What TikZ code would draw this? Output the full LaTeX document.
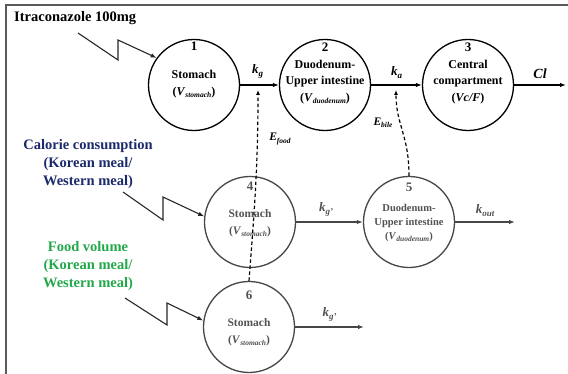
\documentclass[tikz,border=0pt]{standalone}
\usepackage{fontspec}
\setmainfont{Liberation Serif}
\usetikzlibrary{arrows.meta}
\definecolor{navyblue}{HTML}{1B2A6B}
\definecolor{foodgreen}{HTML}{22A84A}
\definecolor{framegray}{HTML}{5A5A5A}
\newcommand\lowsub[1]{\raisebox{-0.45ex}{\fontsize{7.5}{7.5}\selectfont\bfseries\itshape #1}}
\newcommand\ratesub[1]{\raisebox{-0.45ex}{\fontsize{9}{9}\selectfont\bfseries\itshape #1}}
\newcommand\bisym[1]{\textbf{\textit{#1}}}
\begin{document}
\begin{tikzpicture}[x=1pt,y=-1pt,
  comp/.style={circle,draw=black,line width=1.3pt,minimum size=91pt,inner sep=0pt},
  lcomp/.style={comp,draw=black!72},
  num/.style={font=\fontsize{13}{13}\selectfont\bfseries,inner sep=0pt},
  lnum/.style={num,text=black!68},
  ctext/.style={font=\fontsize{12}{16.5}\selectfont\bfseries,align=center,inner sep=0pt},
  lctext/.style={font=\fontsize{11.5}{16.5}\selectfont\bfseries,align=center,inner sep=0pt,text=black!68},
  flow/.style={line width=1.3pt,-{Latex[length=6pt,width=4.5pt]}},
  lflow/.style={flow,draw=black!72},
  zig/.style={line width=1.1pt,draw=black!85,-{Latex[length=6pt,width=4.5pt]}},
  effect/.style={line width=1.2pt,dash pattern=on 3.5pt off 2.5pt,-{Latex[length=5pt,width=4pt]}},
  rate/.style={font=\fontsize{13}{13}\selectfont,inner sep=0pt},
  side/.style={font=\fontsize{14.5}{18}\selectfont\bfseries,align=center,inner sep=0pt}
]
\useasboundingbox (0,0) rectangle (568,374);
% frame
\draw[framegray,line width=1.5pt] (6,374) -- (6,5) -- (568,5);

% top row compartments
\node[comp] (c1) at (194,85) {};
\node[comp] (c2) at (325,85) {};
\node[comp] (c3) at (468,85) {};
\node[num] (n1) at (194,46) {1};
\node[num] (n2) at (325,47) {2};
\node[num] (n3) at (468,47) {3};
\node[ctext] (t1) at (194,84) {Stomach\\(\bisym{V}\lowsub{stomach})};
\node[ctext] (t2) at (325,82) {Duodenum-\\Upper intestine\\(\bisym{V}\lowsub{duodenum})};
\node[ctext] (t3) at (468,82) {Central\\compartment\\(\bisym{Vc/F})};

% lower compartments
\node[lcomp] (c4) at (250,222) {};
\node[lcomp] (c5) at (409,222) {};
\node[lcomp] (c6) at (249,327) {};
\node[lnum] (n4) at (250,186) {4};
\node[lnum] (n5) at (409,187) {5};
\node[lnum] (n6) at (249,295) {6};
\node[lctext] (t4) at (250,223) {Stomach\\(\bisym{V}\lowsub{stomach})};
\node[lctext,font=\fontsize{10.5}{14}\selectfont\bfseries] (t5) at (409,223) {Duodenum-\\Upper intestine\\(\bisym{V}\lowsub{duodenum})};
\node[lctext] (t6) at (249,332) {Stomach\\(\bisym{V}\lowsub{stomach})};

% flows top
\draw[flow] (c1) -- (c2) node[pos=0.45,above=6pt,rate] (kg) {\bisym{k}\ratesub{g}};
\draw[flow] (c2) -- (c3) node[pos=0.5,above=6pt,rate] (ka) {\bisym{k}\ratesub{a}};
\coordinate (clend) at (566,85);
\draw[flow] (c3) -- (clend) node[pos=0.5,above=6pt,rate,font=\fontsize{14}{14}\selectfont] (cl) {\bisym{Cl}};

% flows bottom
\draw[lflow] (c4) -- (c5) node[pos=0.45,above=5pt,rate,text=black!68] (kg2) {\bisym{k}\ratesub{g'}};
\coordinate (koutend) at (515,222);
\draw[lflow] (c5) -- (koutend) node[pos=0.5,above=5pt,rate,text=black!68] (kout) {\bisym{k}\ratesub{out}};
\coordinate (kg3end) at (364,327);
\draw[lflow] (c6) -- (kg3end) node[pos=0.5,above=5pt,rate,text=black!68] (kg3) {\bisym{k}\ratesub{g'}};

% effect arrows
\coordinate (efoodtip) at (258,90);
\draw[effect] (c6.north) .. controls (254,215) and (258,170) .. (efoodtip);
\node[rate,font=\fontsize{11.5}{11.5}\selectfont] (efood) at (280,139) {\bisym{E}\lowsub{food}};
\coordinate (ebiletip) at (396,90);
\draw[effect] (c5.north) .. controls (409,135) and (396,125) .. (ebiletip);
\node[rate,font=\fontsize{11.5}{11.5}\selectfont] (ebile) at (383,123) {\bisym{E}\lowsub{bile}};

% inputs
\node[side,anchor=west] (itra) at (14,18) {Itraconazole 100mg};
\coordinate (z1a) at (78,33);
\coordinate (z1b) at (118,60);
\coordinate (z1c) at (118,40);
\draw[zig] (z1a) -- (z1b) -- (z1c) -- (c1.144);

\node[side,text=navyblue] (cal) at (88,164) {Calorie consumption\\(Korean meal/\\Western meal)};
\coordinate (z2a) at (123,192);
\coordinate (z2b) at (163,220);
\coordinate (z2c) at (163,197);
\draw[zig] (z2a) -- (z2b) -- (z2c) -- (c4.173);

\node[side,text=foodgreen] (food) at (88,266) {Food volume\\(Korean meal/\\Western meal)};
\coordinate (z3a) at (125,298);
\coordinate (z3b) at (167,325);
\coordinate (z3c) at (167,303);
\draw[zig] (z3a) -- (z3b) -- (z3c) -- (c6.172);
\end{tikzpicture}
\end{document}
